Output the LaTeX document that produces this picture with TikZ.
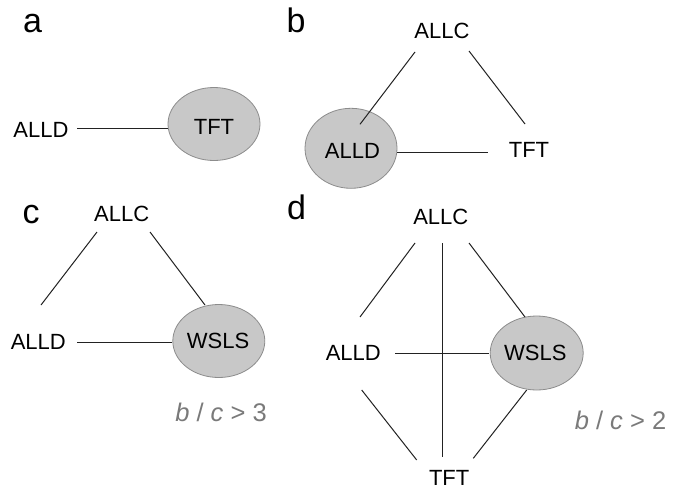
\documentclass[tikz,border=0pt]{standalone}
\usepackage{fontspec}
\setmainfont{Liberation Sans}
\usetikzlibrary{shapes.geometric,calc}
\definecolor{blobfill}{HTML}{C8C8C8}
\definecolor{blobdraw}{HTML}{8C8C8C}
\definecolor{edgecol}{HTML}{222222}
\definecolor{condcol}{HTML}{7A7A7A}
\begin{document}
\begin{tikzpicture}[x=1pt,y=-1pt,
  txt/.style={inner sep=0pt,font=\fontsize{22}{22}\selectfont},
  panel/.style={inner sep=0pt,font=\fontsize{34}{34}\selectfont},
  blob/.style={ellipse,fill=blobfill,draw=blobdraw,line width=0.8pt,minimum width=92pt,minimum height=73pt,inner sep=0pt},
  cond/.style={inner sep=0pt,text=condcol,font=\fontsize{25.5}{25.5}\selectfont},
  edge/.style={draw=edgecol,line width=1pt}]
\useasboundingbox (0,0) rectangle (677,495);
\fill[white] (0,0) rectangle (677,495);

% ---------- panel a ----------
\node[panel] (aL) at (32.5,23.5) {a};
\node[txt] (aD) at (41,129.5) {ALLD};
\node[blob] (aT) at (214,124) {};
\node[txt] (aTt) at (214,126.5) {TFT};
\draw[edge] ($(aD)+(36,-1.5)$) -- ($(aT)+(-46,4)$);

% ---------- panel b ----------
\node[panel] (bL) at (296,20.5) {b};
\node[txt] (bC) at (442,30.5) {ALLC};
\node[blob,minimum height=80pt] (bD) at (351,148.3) {};
\node[txt] (bDt) at (352.5,151) {ALLD};
\node[txt] (bT) at (529,150) {TFT};
\draw[edge] ($(bC)+(-27,21.5)$) -- ($(bD)+(9,-24)$);
\draw[edge] ($(bC)+(27,20.5)$) -- ($(bT)+(-4,-26)$);
\draw[edge] ($(bD)+(46,3.7)$) -- ($(bT)+(-41,2)$);

% ---------- panel c ----------
\node[panel] (cL) at (31,215) {c};
\node[txt] (cC) at (121.7,214.3) {ALLC};
\node[txt] (cD) at (38.3,341.7) {ALLD};
\node[blob] (cW) at (218.8,341) {};
\node[txt] (cWt) at (218,341.3) {WSLS};
\node[cond] (cCond) at (221,412.5) {\textit{b} / \textit{c} > 3};
\draw[edge] ($(cC)+(-24.7,17.7)$) -- ($(cD)+(2.7,-36.7)$);
\draw[edge] ($(cC)+(28.3,17.7)$) -- ($(cW)+(-13.8,-36)$);
\draw[edge,line width=0.8pt] ($(cD)+(38.7,0.3)$) -- ($(cW)+(-46.8,1)$);

% ---------- panel d ----------
\node[panel] (dL) at (296.7,207.5) {d};
\node[txt] (dC) at (440.8,216.7) {ALLC};
\node[txt] (dD) at (353.3,353.3) {ALLD};
\node[blob,minimum width=93pt,minimum height=74pt] (dW) at (536.7,353) {};
\node[txt] (dWt) at (535.3,353.3) {WSLS};
\node[txt] (dT) at (449.2,478.3) {TFT};
\node[cond] (dCond) at (620.5,420) {\textit{b} / \textit{c} > 2};
\draw[edge] ($(dC)+(-25.8,26.3)$) -- ($(dD)+(6.7,-36.3)$);
\draw[edge] ($(dC)+(1.2,26.3)$) -- ($(dT)+(-7.2,-21.3)$);
\draw[edge] ($(dC)+(28.2,26.3)$) -- ($(dW)+(-11.7,-36)$);
\draw[edge] ($(dD)+(41.7,-0.3)$) -- ($(dW)+(-47.5,0)$);
\draw[edge] ($(dD)+(8.4,36.7)$) -- ($(dT)+(-32.5,-18.3)$);
\draw[edge] ($(dW)+(-10,37)$) -- ($(dT)+(24.1,-20)$);
\end{tikzpicture}
\end{document}
